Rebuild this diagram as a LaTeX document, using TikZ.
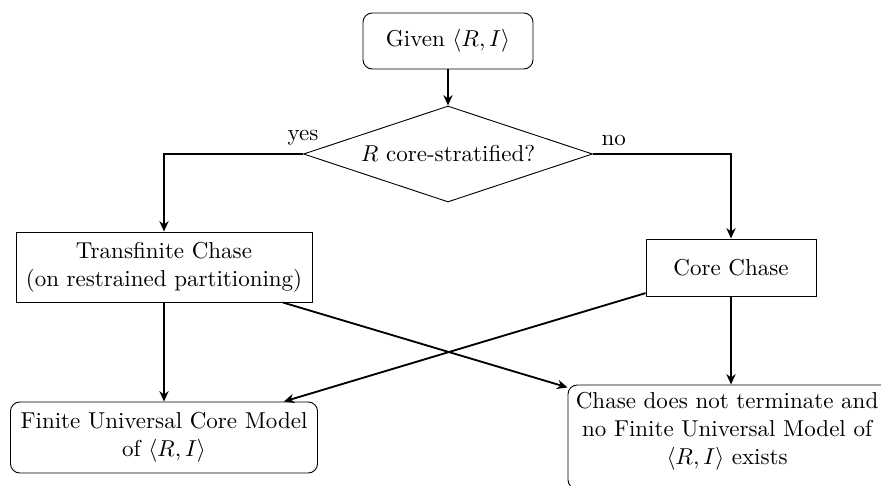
\documentclass[tikz,border=0pt]{standalone}
\usetikzlibrary{shapes.geometric,arrows.meta}
% lengths given in the picture's own units
\newcommand\pxl[1]{#1*0.4348pt}
\begin{document}
\begin{tikzpicture}[x=0.4348pt,y=-0.4348pt,
  box/.style={draw, thin, rectangle, align=center, inner sep=3.33pt},
  roundbox/.style={box, rounded corners=4pt},
  decision/.style={draw, thin, diamond, shape aspect=3, inner sep=1pt},
  flow/.style={thick, -{Stealth[length=4.5pt,width=4pt,inset=1.4pt]}},
  lbl/.style={above, inner sep=3.33pt}]
\useasboundingbox (0,0) rectangle (881,486);

% steps
\node[roundbox, minimum width=\pxl{170}, minimum height=\pxl{56}] (given) at (448,41) {Given $\langle R,I\rangle$};
\node[decision, minimum width=\pxl{289}, minimum height=\pxl{96}] (test) at (448,154) {$R$ core-stratified?};
\node[box, minimum width=\pxl{296}, minimum height=\pxl{70}] (trans) at (164,267) {Transfinite Chase\\(on restrained partitioning)};
\node[box, minimum width=\pxl{170}, minimum height=\pxl{57}] (core) at (731,267.5) {Core Chase};
\node[roundbox, minimum width=\pxl{307}, minimum height=\pxl{71}] (finite) at (164,437.5) {Finite Universal Core Model\\of $\langle R,I\rangle$};
\node[roundbox, minimum width=\pxl{332}, minimum height=\pxl{104}] (nofin) at (734,437)
  {\parbox[c][38.5pt][t]{131.5pt}{\centering Chase does not terminate and\\no Finite Universal Model of\\$\langle R,I\rangle$ exists}\hspace*{6pt}};

% connectors
\draw[flow] (given) -- (test);
\draw[flow] (test.west) -| node[lbl, pos=0] {yes} (trans.north);
\draw[flow] (test.east) -| node[lbl, pos=0.075] {no} (core.north);
\draw[flow] (trans) -- (finite);
\draw[flow] (trans) -- (nofin);
\draw[flow] (core) -- (finite);
\draw[flow] (core.south) -- (core.south |- nofin.north);
\end{tikzpicture}
\end{document}
